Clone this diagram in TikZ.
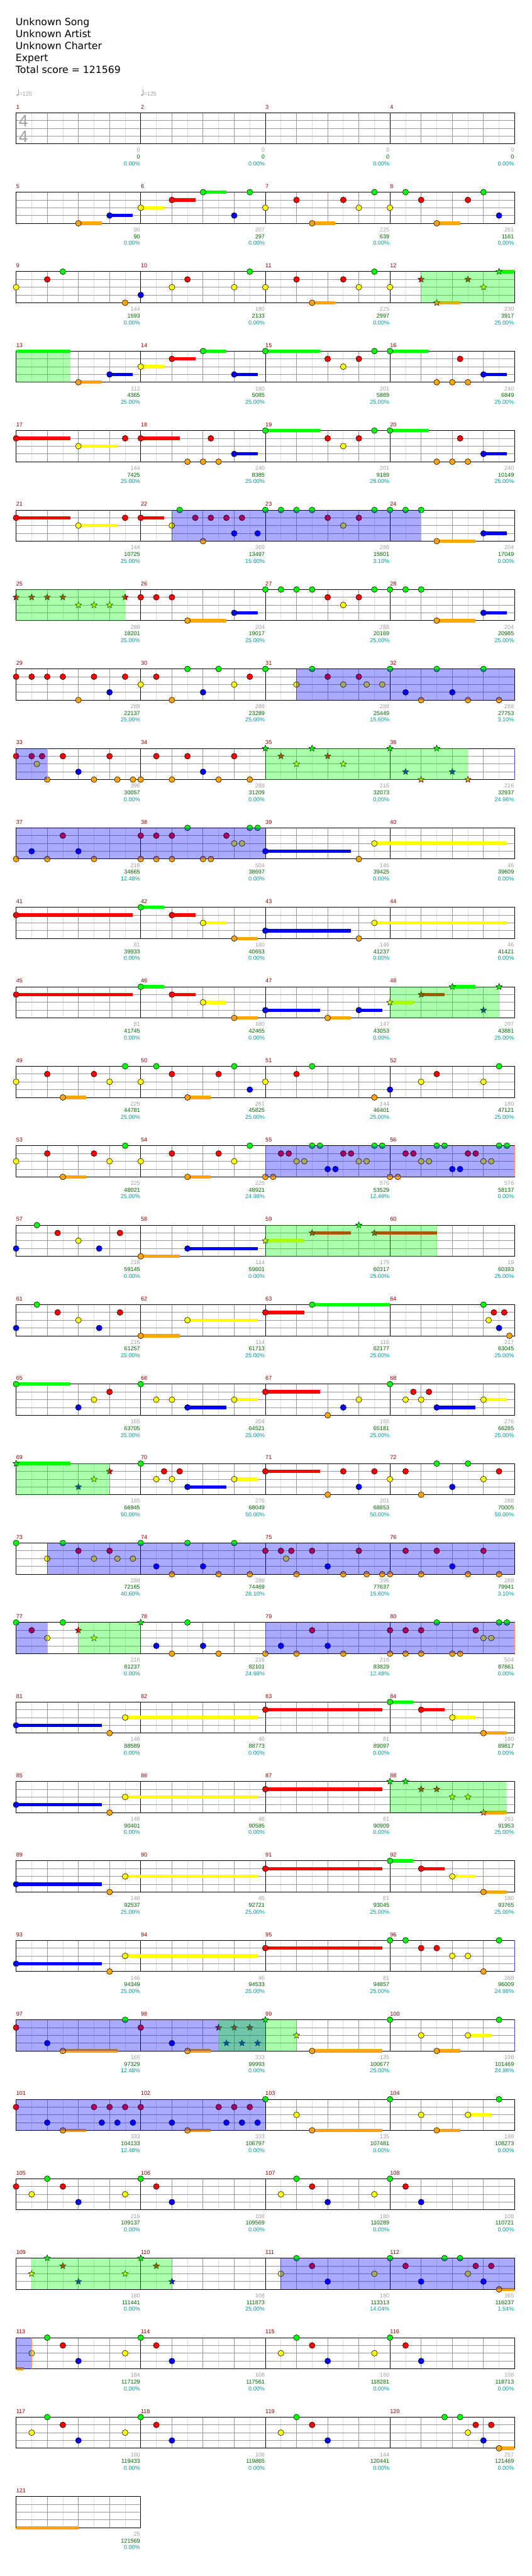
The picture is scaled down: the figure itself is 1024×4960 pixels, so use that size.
\documentclass[tikz,border=0pt]{standalone}
\usepackage{fontspec}
\setmainfont{DejaVu Sans}
\newfontfamily\numfont{Liberation Sans}
\usetikzlibrary{shapes.geometric}

\definecolor{fretg}{HTML}{00FF00}
\definecolor{fretr}{HTML}{FF0000}
\definecolor{frety}{HTML}{FFFF00}
\definecolor{fretb}{HTML}{0000FF}
\definecolor{freto}{HTML}{FFA500}
\definecolor{barred}{HTML}{8B0000}
\definecolor{basegray}{HTML}{A0A0A0}
\definecolor{totgreen}{HTML}{006400}
\definecolor{pcteal}{HTML}{009999}
\definecolor{lightgrid}{HTML}{DDDDDD}
\definecolor{beatgrid}{HTML}{999999}
\definecolor{blueend}{HTML}{FF9977}
\definecolor{bluestart}{HTML}{4646B4}

% lane offsets (px below the staff top)
\def\laneg{0}\def\laner{15}\def\laney{30}\def\laneb{45}\def\laneo{60}

\tikzset{
  gem/.style={circle, draw=black, fill=#1, line width=0.5pt,
    minimum size=8.4pt, inner sep=0pt},
  stargem/.style={star, star points=5, star point ratio=2.3, draw=black,
    fill=#1, line width=0.45pt, minimum size=9.6pt, inner sep=0pt},
  sustain/.style={draw=#1, line width=4.9pt},
  lightline/.style={draw=lightgrid, line width=0.75pt},
  beatline/.style={draw=beatgrid, line width=0.75pt},
  barline/.style={draw=black, line width=0.75pt},
  smallnum/.style={font=\numfont\fontsize{8.25}{10}\selectfont, inner sep=0pt},
  barnumber/.style={smallnum, text=barred, anchor=base west},
  basescore/.style={smallnum, text=basegray, anchor=base east},
  totscore/.style={smallnum, text=totgreen, anchor=base east},
  pctscore/.style={smallnum, text=pcteal, anchor=base east},
  titletext/.style={font=\fontsize{14.25}{17}\selectfont, inner sep=0pt, anchor=base west},
  timesig/.style={font=\numfont\fontsize{24}{24}\selectfont, text=basegray, inner sep=0pt},
  tempotext/.style={smallnum, text=basegray, anchor=base west}
}

% origin of a bar: \bx (left), \by (staff top)
\newcommand\setbar[1]{%
  \pgfmathtruncatemacro\brow{(#1-1)/4}%
  \pgfmathtruncatemacro\bcol{#1-1-4*\brow}%
  \pgfmathsetmacro\bx{31+240*\bcol}%
  \pgfmathsetmacro\by{217+153*\brow}}

% one staff row: top y, number of bars
\newcommand\staffrow[2]{%
  \pgfmathtruncatemacro\nE{8*#2-1}%
  \foreach \k in {1,3,...,\nE} \draw[lightline] (31+30*\k,#1) -- ++(0,60);
  \pgfmathtruncatemacro\nQ{4*#2-1}%
  \foreach \k in {1,...,\nQ} \draw[beatline] (31+60*\k,#1) -- ++(0,60);
  \foreach \k in {15,30,45} \draw[beatline] (31,#1+\k) -- ++(240*#2,0);
  \pgfmathtruncatemacro\nB{#2-1}%
  \ifnum\nB>0 \foreach \k in {1,...,\nB} \draw[barline] (31+240*\k,#1) -- ++(0,60);\fi
  \draw[barline] (31,#1) rectangle ++(240*#2,60);}

% notes: lane/position(16ths)/sustain(16ths)
\newcommand\gems[2]{\setbar{#1}%
  \foreach \nl/\np/\ns in {#2}{%
    \edef\laneoff{\csname lane\nl\endcsname}%
    \ifdim\ns pt>0pt
      \draw[sustain=fret\nl] (\bx+15*\np,\by+\laneoff) -- ++(15*\ns,0);
    \fi
    \node[gem=fret\nl] at (\bx+15*\np,\by+\laneoff) {};}}
\newcommand\stars[2]{\setbar{#1}%
  \foreach \nl/\np/\ns in {#2}{%
    \edef\laneoff{\csname lane\nl\endcsname}%
    \ifdim\ns pt>0pt
      \draw[sustain=fret\nl] (\bx+15*\np,\by+\laneoff) -- ++(15*\ns,0);
    \fi
    \node[stargem=fret\nl] at (\bx+15*\np,\by+\laneoff) {};}}
\newcommand\tail[4]{\setbar{#1}%
  \draw[sustain=fret#2] (\bx+15*#3,\by+\csname lane#2\endcsname) -- (\bx+15*#4,\by+\csname lane#2\endcsname);}

% star power overlays
\newcommand\spblue[3]{\setbar{#1}%
  \fill[blue, fill opacity=0.333] (\bx+15*#2,\by) rectangle (\bx+15*#3,\by+60);}
\newcommand\spgreen[3]{\setbar{#1}%
  \fill[green, fill opacity=0.333] (\bx+15*#2,\by) rectangle (\bx+15*#3,\by+60);}
\newcommand\spstart[2]{\setbar{#1}\draw[bluestart, line width=0.75pt] (\bx+15*#2,\by) -- ++(0,60);}
\newcommand\spstop[2]{\setbar{#1}\draw[blueend, line width=0.75pt] (\bx+15*#2,\by) -- ++(0,60);}

\begin{document}
\begin{tikzpicture}[x=0.75pt, y=-0.75pt]
\useasboundingbox (0,0) rectangle (1024,4960);

% header
\node[titletext] (song) at (30,49) {Unknown Song};
\node[titletext] (artist) at (30,72) {Unknown Artist};
\node[titletext] (charter) at (30,95) {Unknown Charter};
\node[titletext] (level) at (30,118) {Expert};
\node[titletext] (total) at (30,141) {Total score = 121569};

% tempo marks
\foreach \tx [count=\ti] in {31,271} {
  \fill[basegray] (\tx+2.5,183) ellipse [x radius=2.3, y radius=1.7];
  \draw[basegray, line width=0.6pt] (\tx+4.6,183) -- (\tx+4.6,172);
  \node[tempotext] (tempo\ti) at (\tx+5.5,184.5) {=125};
}

% staff rows
\foreach \r in {0,...,29} {
  \pgfmathsetmacro\ry{217+153*\r}
  \staffrow{\ry}{4}
}
\staffrow{4807}{1}

% time signature
\node[timesig] (tsup) at (45,233) {4};
\node[timesig] (tsdown) at (45,263) {4};

% notes
\gems{5}{o/8/3,b/12/3}
\gems{6}{y/0/3,r/4/3,g/8/3,b/12/0,g/14/0}
\gems{7}{y/0/0,r/4/0,o/6/3,r/10/0,y/12/0,g/14/0}
\gems{8}{y/0/0,g/2/0,r/4/0,o/6/3,r/10/0,g/12/0,b/14/0}
\gems{9}{y/0/0,r/4/0,g/6/0,o/14/0}
\gems{10}{b/0/0,y/4/0,r/6/0,y/12/0,g/14/0}
\gems{11}{y/0/0,r/4/0,o/6/3,r/10/0,y/12/0,g/14/0}
\gems{12}{y/0/0}
\stars{12}{r/4/0,o/6/3,r/10/0,y/12/0,g/14/2}
\tail{13}{g}{0}{7}
\gems{13}{o/8/3,b/12/3}
\gems{14}{y/0/3,r/4/3,g/8/3,b/12/3}
\gems{15}{g/0/7,r/8/0,y/10/0,r/12/0,g/14/0}
\gems{16}{g/0/5,o/6/0,o/8/0,r/9/0,o/10/0,b/12/3}
\gems{17}{r/0/7,y/8/5,r/14/0}
\gems{18}{r/0/5,o/6/0,o/8/0,r/9/0,o/10/0,b/12/3}
\gems{19}{g/0/7,r/8/0,y/10/0,r/12/0,g/14/0}
\gems{20}{g/0/5,o/6/0,o/8/0,r/9/0,o/10/0,b/12/3}
\gems{21}{r/0/7,y/8/5,r/14/0}
\gems{22}{r/0/3,y/4/0,g/5/0,r/7/0,o/8/0,r/9/0,r/11/0,b/12/0,r/13/0,b/15/0}
\gems{23}{g/0/0,g/2/0,g/4/0,g/6/0,r/8/0,y/10/0,r/12/0,g/14/0}
\gems{24}{g/0/0,g/2/0,g/4/0,o/6/5,b/12/3}
\stars{25}{r/0/0,r/2/0,r/4/0,r/6/0,y/8/0,y/10/0,y/12/0,r/14/0}
\gems{26}{r/0/0,r/2/0,r/4/0,o/6/5,b/12/3}
\gems{27}{g/0/0,g/2/0,g/4/0,g/6/0,r/8/0,y/10/0,r/12/0,g/14/0}
\gems{28}{g/0/0,g/2/0,g/4/0,o/6/5,b/12/3}
\gems{29}{r/0/0,r/2/0,r/4/0,r/6/0,o/8/0,r/10/0,b/12/0,r/14/0}
\gems{30}{y/0/0,r/2/0,o/4/0,g/6/0,b/8/0,g/10/0,y/12/0,r/14/0}
\gems{31}{g/0/0,y/4/0,g/6/0,r/8/0,y/10/0,r/12/0,y/13/0,y/15/0}
\gems{32}{g/0/0,b/2/0,o/4/0,g/6/0,b/8/0,o/10/0,g/12/0,o/14/0}
\gems{33}{r/0/0,r/2/0,y/2.6667/0,r/3.3333/0,o/4/0,r/6/0,b/8/0,o/10/0,r/12/0,o/13/0,o/15/0}
\gems{34}{o/0/0,r/2/0,o/4/0,r/6/0,b/8/0,o/10/0,r/12/0,o/14/0}
\stars{35}{g/0/0,r/2/0,y/4/0,g/6/0,r/8/0,y/10/0}
\stars{36}{g/0/0,b/2/0,o/4/0,g/6/0,b/8/0,o/10/0}
\gems{37}{o/0/0,b/2/0,o/4/0,r/6/0,b/8/0,o/10/0}
\gems{38}{r/0/0,o/0/0,r/2/0,o/2/0,r/4/0,o/4/0,g/6/0,o/8/0,o/9/0,r/11/0,y/12/0,y/13/0,g/14/0,g/15/0}
\gems{39}{b/0/11,o/12/0,y/14/17}
\gems{41}{r/0/15}
\gems{42}{g/0/3,r/4/3,y/8/3,o/12/3}
\gems{43}{b/0/11,o/12/0,y/14/17}
\gems{45}{r/0/15}
\gems{46}{g/0/3,r/4/3,y/8/3,o/12/3}
\gems{47}{b/0/7,o/8/3,b/12/3}
\stars{48}{y/0/3,r/4/3,g/8/3,b/12/0,g/14/0}
\gems{49}{y/0/0,r/4/0,o/6/3,r/10/0,y/12/0,g/14/0}
\gems{50}{y/0/0,g/2/0,r/4/0,o/6/3,r/10/0,g/12/0,b/14/0}
\gems{51}{y/0/0,r/4/0,g/6/0,o/14/0}
\gems{52}{b/0/0,y/4/0,r/6/0,y/12/0,g/14/0}
\gems{53}{y/0/0,r/4/0,o/6/3,r/10/0,y/12/0,g/14/0}
\gems{54}{y/0/0,r/4/0,o/6/3,r/10/0,y/12/0,g/14/0}
\gems{55}{o/0/0,o/1/0,r/2/0,r/3/0,y/4/0,y/5/0,g/6/0,g/7/0,b/8/0,b/9/0,r/10/0,r/11/0,y/12/0,y/13/0,g/14/0,g/15/0}
\gems{56}{o/0/0,o/1/0,r/2/0,r/3/0,y/4/0,y/5/0,g/6/0,g/7/0,b/8/0,b/9/0,r/10/0,r/11/0,y/12/0,y/13/0,g/14/0,g/15/0}
\gems{57}{b/0/0,g/2.6667/0,r/5.3333/0,y/8/0,b/10.6667/0,r/13.3333/0}
\gems{58}{o/0/5,b/6/9}
\stars{59}{y/0/5,r/6/5,g/12/0,r/14/8}
\gems{61}{b/0/0,g/2.6667/0,r/5.3333/0,y/8/0,b/10.6667/0,r/13.3333/0}
\gems{62}{o/0/5,y/6/9}
\gems{63}{r/0/5,g/6/10}
\gems{64}{g/12/0,y/12.6667/0,r/13.3333/0,b/14/0,r/14.6667/0,o/15.3333/0}
\gems{65}{g/0/7,b/8/0,y/10/0,r/12/0}
\gems{66}{g/0/0,y/2/0,y/4/0,b/6/5,y/12/3}
\gems{67}{r/0/7,o/8/0,b/10/0,y/12/0}
\gems{68}{g/0/0,y/2/0,r/3/0,y/4/0,r/5/0,b/6/5,y/12/3}
\stars{69}{g/0/7,b/8/0,y/10/0,r/12/0}
\gems{70}{g/0/0,y/2/0,r/3/0,y/4/0,r/5/0,b/6/5,y/12/3}
\gems{71}{r/0/7,o/8/0,r/10/0,b/12/0,r/14/0}
\gems{72}{y/0/0,r/2/0,o/4/0,g/6/0,b/8/0,g/10/0,y/12/0,r/14/0}
\gems{73}{g/0/0,y/4/0,g/6/0,r/8/0,y/10/0,r/12/0,y/13/0,y/15/0}
\gems{74}{g/0/0,b/2/0,o/4/0,g/6/0,b/8/0,o/10/0,g/12/0,o/14/0}
\gems{75}{r/0/0,r/2/0,y/2.6667/0,r/3.3333/0,o/4/0,r/6/0,b/8/0,o/10/0,r/12/0,o/13/0,o/15/0}
\gems{76}{o/0/0,r/2/0,o/4/0,r/6/0,b/8/0,o/10/0,r/12/0,o/14/0}
\gems{77}{g/0/0,r/2/0,y/4/0,g/6/0}
\stars{77}{r/8/0,y/10/0}
\stars{78}{g/0/0}
\gems{78}{b/2/0,o/4/0,g/6/0,b/8/0,o/10/0}
\gems{79}{o/0/0,b/2/0,o/4/0,r/6/0,b/8/0,o/10/0}
\gems{80}{r/0/0,o/0/0,r/2/0,o/2/0,r/4/0,o/4/0,g/6/0,o/8/0,o/9/0,r/11/0,y/12/0,y/13/0,g/14/0,g/15/0}
\gems{81}{b/0/11,o/12/0,y/14/17}
\gems{83}{r/0/15}
\gems{84}{g/0/3,r/4/3,y/8/3,o/12/3}
\gems{85}{b/0/11,o/12/0,y/14/17}
\gems{87}{r/0/15}
\stars{88}{g/0/0,g/2/0,r/4/0,r/6/0,y/8/0,y/10/0,o/12/3}
\gems{89}{b/0/11,o/12/0,y/14/17}
\gems{91}{r/0/15}
\gems{92}{g/0/3,r/4/3,y/8/3,o/12/3}
\gems{93}{b/0/11,o/12/0,y/14/17}
\gems{95}{r/0/15}
\gems{96}{g/0/0,g/2/0,r/4/0,r/6/0,y/8/0,y/10/0,o/12/0,g/14/0}
\gems{97}{r/0/0,b/4/0,o/6/7,g/14/0}
\gems{98}{r/0/0,b/4/0,o/6/3}
\stars{98}{r/10/0,b/11/0,r/12/0,b/13/0,r/14/0,b/15/0}
\stars{99}{g/0/0,y/4/0}
\gems{99}{o/6/9}
\gems{100}{g/0/0,y/4/0,o/6/3,y/10/3,g/14/0}
\gems{101}{r/0/0,b/4/0,o/6/3,r/10/0,b/11/0,r/12/0,b/13/0,r/14/0,b/15/0}
\gems{102}{r/0/0,b/4/0,o/6/3,r/10/0,b/11/0,r/12/0,b/13/0,r/14/0,b/15/0}
\gems{103}{g/0/0,y/4/0,o/6/9}
\gems{104}{g/0/0,y/4/0,o/6/3,y/10/3,g/14/0}
\gems{105}{r/0/0,y/2/0,g/4/0,r/6/0,b/8/0,y/14/0}
\gems{106}{g/0/0,r/2/0,b/4/0}
\gems{107}{y/2/0,g/4/0,r/6/0,b/8/0,y/14/0}
\gems{108}{g/0/0,r/2/0,b/4/0}
\stars{109}{y/2/0,g/4/0,r/6/0,b/8/0,y/14/0}
\stars{110}{g/0/0,r/2/0,b/4/0}
\gems{111}{y/2/0,g/4/0,r/6/0,b/8/0,y/14/0}
\gems{112}{g/0/0,r/2/0,b/4/0,g/7/0,g/9/0,y/10/0,r/11/0,b/12/0,r/13/0,o/14/2}
\tail{113}{o}{0}{1}
\gems{113}{y/2/0,g/4/0,r/6/0,b/8/0,y/14/0}
\gems{114}{g/0/0,r/2/0,b/4/0}
\gems{115}{y/2/0,g/4/0,r/6/0,b/8/0,y/14/0}
\gems{116}{g/0/0,r/2/0,b/4/0}
\gems{117}{y/2/0,g/4/0,r/6/0,b/8/0,y/14/0}
\gems{118}{g/0/0,r/2/0,b/4/0}
\gems{119}{y/2/0,g/4/0,r/6/0,b/8/0}
\gems{120}{g/7/0,g/9/0,y/10/0,r/11/0,b/12/0,r/13/0,o/14/2}
\tail{121}{o}{0}{8}

% star power activation (blue)
\spblue{22}{4}{35.95}
\spblue{31}{4}{32}
\spblue{33}{0}{4}
\spblue{37}{0}{32}
\spblue{55}{0}{32}
\spblue{73}{4}{64}
\spblue{77}{0}{4}
\spblue{79}{0}{32}
\spblue{97}{0}{32}
\spblue{101}{0}{32}
\spblue{111}{2}{32}
\spblue{113}{0}{2}
\spstart{22}{4}\spstart{31}{4}\spstart{36}{16}\spstart{55}{0}\spstart{73}{4}
\spstart{79}{0}\spstart{96}{16}\spstart{100}{16}\spstart{111}{2}
\spstop{24}{3.95}\spstop{33}{4}\spstop{56}{16}\spstop{77}{4}\spstop{80}{16}\spstop{113}{2}

% star power phrases (green)
\spgreen{12}{4}{16}
\spgreen{13}{0}{7}
\spgreen{25}{0}{14}
\spgreen{35}{0}{26}
\spgreen{48}{0}{14}
\spgreen{59}{0}{22}
\spgreen{69}{0}{12}
\spgreen{77}{8}{16}
\spgreen{88}{0}{15}
\spgreen{98}{10}{20}
\spgreen{109}{2}{20}

% bar numbers and scores
\foreach \m/\sa/\sb/\sc in {
  1/0/0/0.00, 2/0/0/0.00, 3/0/0/0.00, 4/0/0/0.00,
  5/90/90/0.00, 6/207/297/0.00, 7/225/639/0.00, 8/261/1161/0.00,
  9/144/1593/0.00, 10/180/2133/0.00, 11/225/2997/0.00, 12/230/3917/25.00,
  13/112/4365/25.00, 14/180/5085/25.00, 15/201/5889/25.00, 16/240/6849/25.00,
  17/144/7425/25.00, 18/240/8385/25.00, 19/201/9189/25.00, 20/240/10149/25.00,
  21/144/10725/25.00, 22/369/13497/15.60, 23/288/15801/3.10, 24/204/17049/0.00,
  25/288/18201/25.00, 26/204/19017/25.00, 27/288/20169/25.00, 28/204/20985/25.00,
  29/288/22137/25.00, 30/288/23289/25.00, 31/288/25449/15.60, 32/288/27753/3.10,
  33/396/30057/0.00, 34/288/31209/0.00, 35/216/32073/0.00, 36/216/32937/24.98,
  37/216/34665/12.48, 38/504/38697/0.00, 39/146/39425/0.00, 40/46/39609/0.00,
  41/81/39933/0.00, 42/180/40653/0.00, 43/146/41237/0.00, 44/46/41421/0.00,
  45/81/41745/0.00, 46/180/42465/0.00, 47/147/43053/0.00, 48/207/43881/25.00,
  49/225/44781/25.00, 50/261/45825/25.00, 51/144/46401/25.00, 52/180/47121/25.00,
  53/225/48021/25.00, 54/225/48921/24.98, 55/576/53529/12.48, 56/576/58137/0.00,
  57/216/59145/0.00, 58/114/59601/0.00, 59/179/60317/25.00, 60/19/60393/25.00,
  61/216/61257/25.00, 62/114/61713/25.00, 63/116/62177/25.00, 64/217/63045/25.00,
  65/165/63705/25.00, 66/204/64521/25.00, 67/165/65181/25.00, 68/276/66285/25.00,
  69/165/66945/50.00, 70/276/68049/50.00, 71/201/68853/50.00, 72/288/70005/50.00,
  73/288/72165/40.60, 74/288/74469/28.10, 75/396/77637/15.60, 76/288/79941/3.10,
  77/216/81237/0.00, 78/216/82101/24.98, 79/216/83829/12.48, 80/504/87861/0.00,
  81/146/88589/0.00, 82/46/88773/0.00, 83/81/89097/0.00, 84/180/89817/0.00,
  85/146/90401/0.00, 86/46/90585/0.00, 87/81/90909/0.00, 88/261/91953/25.00,
  89/146/92537/25.00, 90/46/92721/25.00, 91/81/93045/25.00, 92/180/93765/25.00,
  93/146/94349/25.00, 94/46/94533/25.00, 95/81/94857/25.00, 96/288/96009/24.98,
  97/165/97329/12.48, 98/333/99993/0.00, 99/135/100677/25.00, 100/198/101469/24.98,
  101/333/104133/12.48, 102/333/106797/0.00, 103/135/107481/0.00, 104/198/108273/0.00,
  105/216/109137/0.00, 106/108/109569/0.00, 107/180/110289/0.00, 108/108/110721/0.00,
  109/180/111441/0.00, 110/108/111873/25.00, 111/180/113313/14.04, 112/365/116237/1.54,
  113/184/117129/0.00, 114/108/117561/0.00, 115/180/118281/0.00, 116/108/118713/0.00,
  117/180/119433/0.00, 118/108/119865/0.00, 119/144/120441/0.00, 120/257/121469/0.00,
  121/25/121569/0.00} {
  \setbar{\m}
  \node[barnumber] (bar\m) at (\bx,\by-7.5) {\m};
  \node[basescore] (base\m) at (\bx+239,\by+76) {\sa};
  \node[totscore] (tot\m) at (\bx+239,\by+89) {\sb};
  \node[pctscore] (pct\m) at (\bx+239,\by+102) {\sc\%};
}
\end{tikzpicture}
\end{document}
